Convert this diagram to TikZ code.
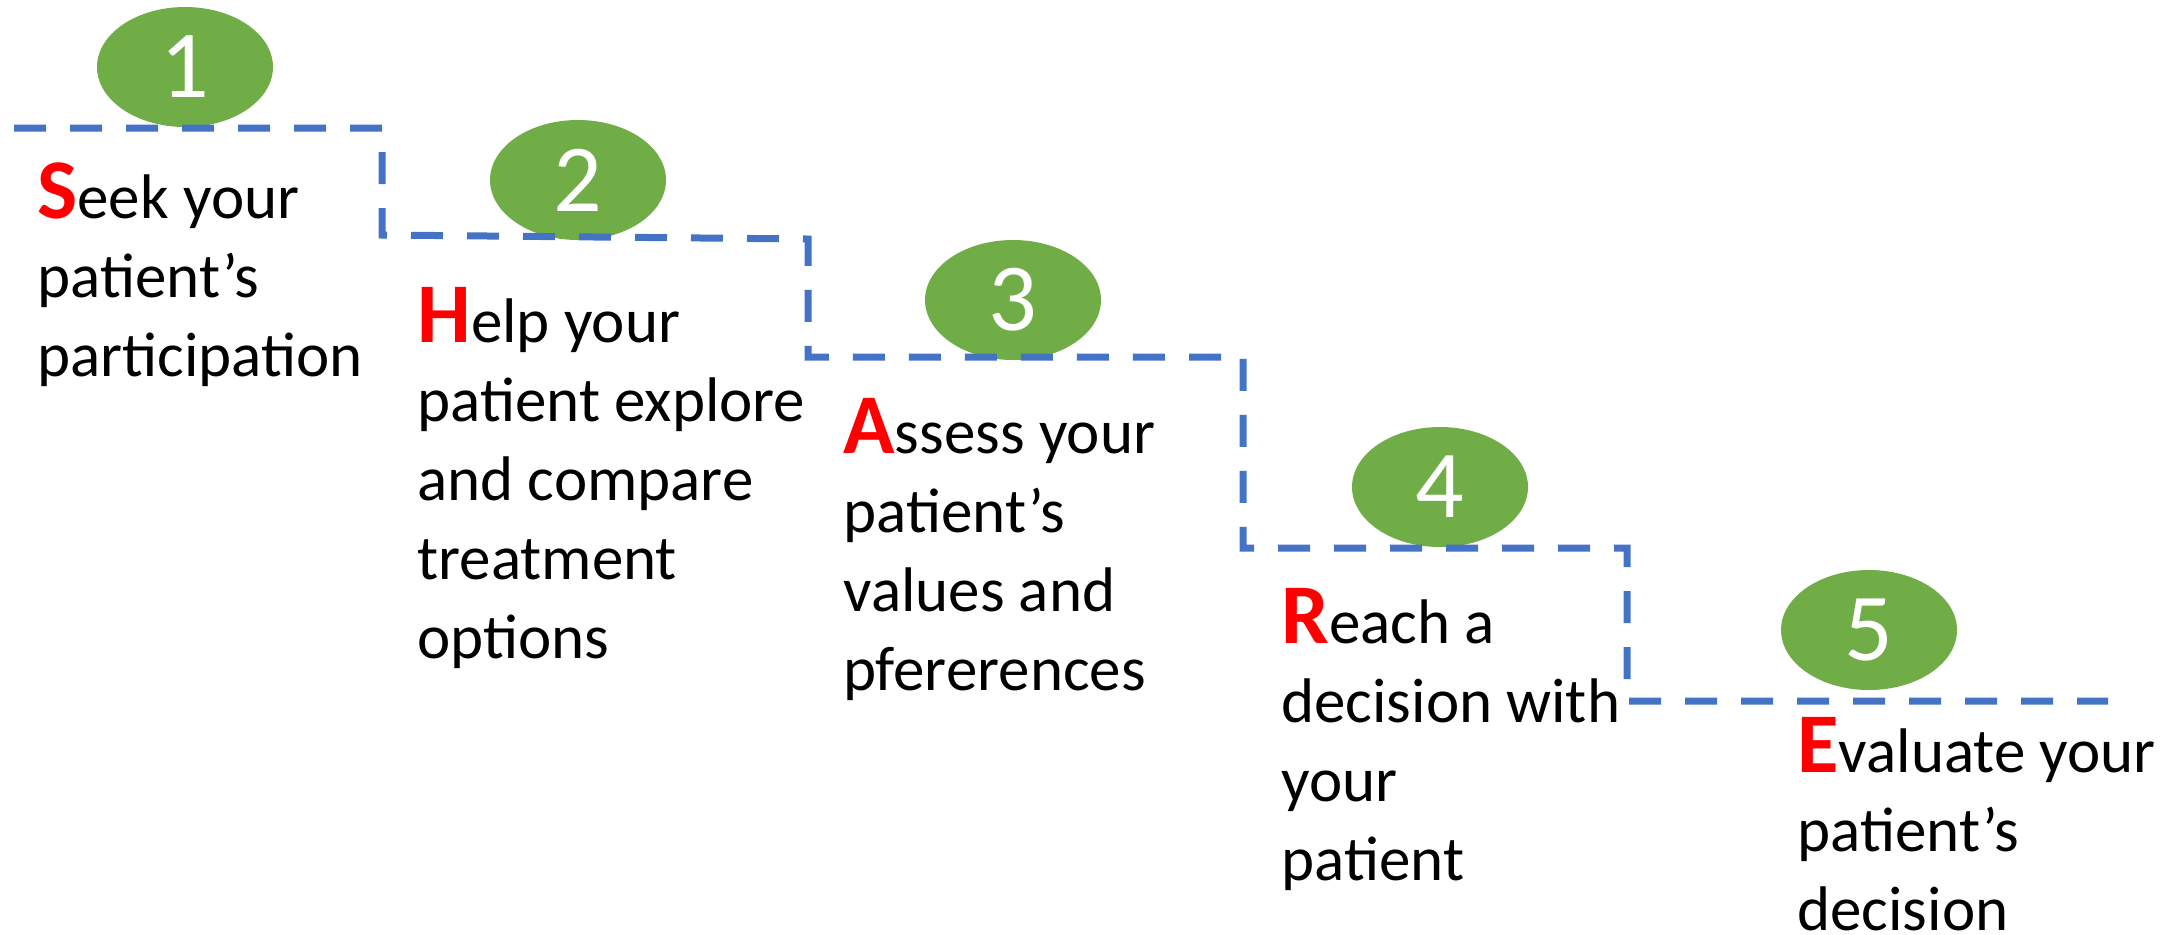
\documentclass[tikz,border=0pt]{standalone}
\usepackage{fontspec}
\setmainfont{Carlito}
\usetikzlibrary{shapes.geometric}
\definecolor{stairblue}{HTML}{4472C4}
\definecolor{numgreen}{HTML}{70AD47}
\definecolor{capred}{HTML}{FF0000}
\newcommand{\capl}[1]{{\fontsize{42.5}{39.5}\selectfont\bfseries\color{capred}#1}}
\tikzset{
  numbox/.style={ellipse, fill=numgreen, draw=none, minimum width=88pt, minimum height=60pt, inner sep=0pt,
    text=white, font=\fontsize{48}{50}\selectfont},
  stepstext/.style={anchor=base west, align=left, inner sep=0pt, font=\fontsize{31.5}{39.5}\selectfont},
  stairline/.style={draw=stairblue, line width=3.5pt, dash pattern=on 16pt off 12pt}
}
\begin{document}
\begin{tikzpicture}[x=0.5pt,y=-0.5pt]
\useasboundingbox (0,0) rectangle (2177,934);
\node[numbox] (e1) at (185,67) {1};
\node[numbox] (e2) at (578,180) {2};
\node[numbox] (e3) at (1013,300) {3};
\node[numbox] (e4) at (1440,487) {4};
\node[numbox] (e5) at (1869,630) {5};
\coordinate (s0) at (14,128);
\coordinate (s1) at (382,128);
\coordinate (s2) at (382,235);
\coordinate (s3) at (808,239);
\coordinate (s4) at (808,357);
\coordinate (s5) at (1243,357);
\coordinate (s6) at (1243,548);
\coordinate (s7) at (1627,548);
\coordinate (s8) at (1627,701);
\coordinate (s9) at (2108,701);
\draw[stairline] (s0) -- (s1) -- (s2) -- (s3) -- (s4) -- (s5) -- (s6) -- (s7) -- (s8) -- (s9);
% anchor is the baseline of the last line
\node[stepstext] (t1) at (37,376) {\capl{S}eek your\\patient’s\\participation};
\node[stepstext] (t2) at (417,658) {\capl{H}elp your\\patient explore\\and compare\\treatment\\options};
\node[stepstext] (t3) at (843,690) {\capl{A}ssess your\\patient’s\\values and\\pfererences};
\node[stepstext] (t4) at (1281,880) {\capl{R}each a\\decision with\\your\\patient};
\node[stepstext] (t5) at (1797,930) {\capl{E}valuate your\\patient’s\\decision};
\end{tikzpicture}
\end{document}
